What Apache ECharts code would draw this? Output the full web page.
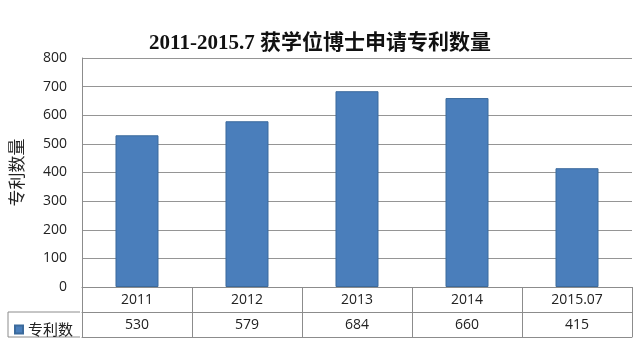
<!DOCTYPE html>
<html><head><meta charset="utf-8">
<script src="https://cdn.jsdelivr.net/npm/echarts@6/dist/echarts.min.js"></script>
<style>html,body{margin:0;padding:0;background:#fff}#c{width:640px;height:342px}</style>
</head><body><div id="c"></div>
<script>
const titleText = '2011-2015.7 获学位博士申请专利数量';
const categories = ['2011', '2012', '2013', '2014', '2015.07'];
const patents = [530, 579, 684, 660, 415];
const seriesName = '专利数';
const yName = '专利数量';

const chart = echarts.init(document.getElementById('c'), null, {renderer: 'canvas'});
const lineColor = '#8c8c8c';
const sans = '"Open Sans","Noto Sans CJK SC",sans-serif';
const option = {
  backgroundColor: '#fff',
  animation: false,
  title: {
    text: titleText, left: 'center', top: 28,
    textStyle: {fontFamily: '"Liberation Serif","Noto Sans CJK SC",serif', fontWeight: 'bold', fontSize: 21, color: '#111'}
  },
  legend: {
    data: [seriesName], left: 9, top: 317, itemWidth: 8, itemHeight: 8, itemGap: 2,
    icon: 'rect', textStyle: {fontFamily: '"Noto Sans CJK SC",sans-serif', fontSize: 15, color: '#222'}
  },
  grid: {left: 80, right: 8, top: 58, bottom: 55, containLabel: false},
  xAxis: [
    {
      type: 'category', data: categories, position: 'bottom',
      axisLine: {show: true, lineStyle: {color: lineColor}},
      axisTick: {show: true, interval: 0, length: 50, lineStyle: {color: lineColor}},
      axisLabel: {margin: 6, fontFamily: sans, fontSize: 14, color: '#222', interval: 0}
    },
    {
      type: 'category', data: categories, position: 'bottom', offset: 25,
      axisLine: {show: true, lineStyle: {color: lineColor}},
      axisTick: {show: false},
      axisLabel: {margin: 6, fontFamily: sans, fontSize: 14, color: '#222', interval: 0,
        formatter: (v, i) => String(patents[i])}
    },
    {
      type: 'category', data: categories, position: 'bottom', offset: 50,
      axisLine: {show: true, lineStyle: {color: lineColor}},
      axisTick: {show: false}, axisLabel: {show: false}
    }
  ],
  yAxis: {
    type: 'value', min: 0, max: 800, interval: 100,
    name: yName, nameLocation: 'middle', nameRotate: 90, nameGap: 57,
    nameTextStyle: {fontFamily: '"Noto Sans CJK SC",serif', fontWeight: 'normal', fontSize: 17, color: '#222'},
    axisLine: {show: true, lineStyle: {color: lineColor}},
    axisTick: {show: false},
    axisLabel: {margin: 15, fontFamily: sans, fontSize: 14, color: '#222'},
    splitLine: {show: true, lineStyle: {color: '#959595', width: 1}}
  },
  series: [{
    name: seriesName, type: 'bar', data: patents, barWidth: 43, xAxisIndex: 0,
    itemStyle: {color: '#4a7ebb', borderColor: '#3b6a9c', borderWidth: 1}
  }],
  graphic: []
};
chart.setOption(option);
// legend cell borders of the data table, aligned to the table rows
const yRow1 = 287 + 25, yRow2 = 287 + 50, xLeft = 8, xPlot = 80;
chart.setOption({graphic: [
  {type: 'line', shape: {x1: xLeft, y1: yRow1, x2: xPlot, y2: yRow1}, style: {stroke: lineColor, lineWidth: 1}},
  {type: 'line', shape: {x1: xLeft, y1: yRow2, x2: xPlot, y2: yRow2}, style: {stroke: lineColor, lineWidth: 1}},
  {type: 'line', shape: {x1: xLeft, y1: yRow1, x2: xLeft, y2: yRow2}, style: {stroke: lineColor, lineWidth: 1}}
]});
</script></body></html>
